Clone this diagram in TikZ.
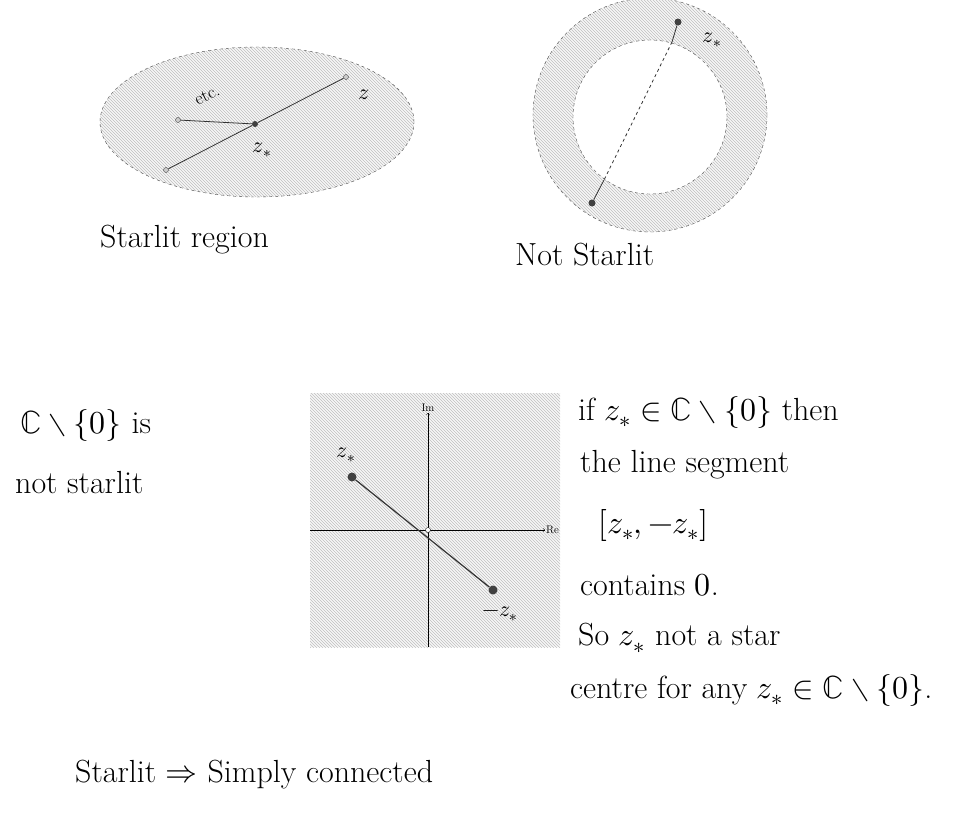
\documentclass[tikz,border=0pt]{standalone}
\usepackage{unicode-math}
\setmathfont{Latin Modern Math}
\usetikzlibrary{patterns}
\begin{document}
\begin{tikzpicture}[x=1pt,y=-1pt,
  dot/.style={circle,fill=black!75,minimum size=7pt,inner sep=0pt},
  smalldot/.style={circle,draw=black!75,fill=gray!40,minimum size=5pt,inner sep=0pt},
  hollow/.style={circle,draw,fill=white,minimum size=5pt,inner sep=0pt},
  hand/.style={font=\fontsize{32}{36}\selectfont,anchor=west,inner sep=0pt},
  hatch/.style={fill=gray!6,postaction={pattern=north west lines,pattern color=gray!50}},
  rim/.style={dashed,black!70}]
\useasboundingbox (0,0) rectangle (958,823);

% starlit region
\path[hatch] (257,122) ellipse [x radius=157pt, y radius=75pt];
\draw[rim] (257,122) ellipse [x radius=157pt, y radius=75pt];
\node[dot,minimum size=6pt] (zstar) at (255,124) {};
\node[smalldot] (zend) at (346,77) {};
\node[smalldot] (left) at (178,120) {};
\node[smalldot] (low) at (166,170) {};
\draw[thick,black!80] (zstar) -- (zend);
\draw[thick,black!80] (zstar) -- (left);
\draw[thick,black!80] (zstar) -- (low);
\node[font=\fontsize{22}{26}\selectfont] (zlab) at (364,95) {$z$};
\node[font=\fontsize{22}{26}\selectfont] (zstarlab) at (262,150) {$z_*$};
\node[font=\fontsize{18}{22}\selectfont,rotate=25,inner sep=0pt] (etc) at (207,95) {etc.};
\node[hand] (title1) at (100,240) {Starlit region};

% annulus
\path[hatch,even odd rule] (650,115) circle[radius=117pt] (650,117) circle[radius=77pt];
\draw[rim] (650,115) circle[radius=117pt];
\draw[rim] (650,117) circle[radius=77pt];
\node[dot] (top) at (678,22) {};
\coordinate (topin) at (672,42);
\node[dot] (bot) at (592,203) {};
\coordinate (botin) at (604,180);
\draw[thick,black!80] (top) -- (topin);
\draw[thick,black!80,dashed] (topin) -- (botin);
\draw[thick,black!80] (botin) -- (bot);
\node[font=\fontsize{22}{26}\selectfont] (toplab) at (712,40) {$z_*$};
\node[hand] (title2) at (515,255) {Not Starlit};

% punctured plane
\node[hand] (punct1) at (20,425) {$\mathbb{C}\setminus\{0\}$ is};
\node[hand] (punct2) at (15,483) {not starlit};
\path[hatch] (310,393) rectangle (560,647);
\coordinate (O) at (428,530);
\coordinate (west) at (310,530);
\coordinate (south) at (428,647);
\draw[->,thin] (west) -- (545,530) node[right,font=\fontsize{11}{13}\selectfont,inner sep=1pt] (re) {Re};
\draw[->,thin] (south) -- (428,413) node[above,font=\fontsize{11}{13}\selectfont,inner sep=1pt] (im) {Im};
\node[dot,minimum size=9pt] (zs) at (352,477) {};
\node[dot,minimum size=9pt] (mzs) at (493,590) {};
\draw[very thick,black!80] (zs) -- (mzs);
\node[hollow] (origin) at (O) {};
\node[font=\fontsize{22}{26}\selectfont] (zslab) at (346,455) {$z_*$};
\node[font=\fontsize{22}{26}\selectfont] (mzslab) at (500,614) {$-z_*$};

% explanation
\node[hand] (l1) at (578,412) {if $z_*\in\mathbb{C}\setminus\{0\}$ then};
\node[hand] (l2) at (580,465) {the line segment};
\node[hand] (l3) at (598,525) {$[z_*,-z_*]$};
\node[hand] (l4) at (580,585) {contains $0$.};
\node[hand] (l5) at (578,638) {So $z_*$ not a star};
\node[hand] (l6) at (570,690) {centre for any $z_*\in\mathbb{C}\setminus\{0\}$.};

\node[hand] (concl) at (75,775) {Starlit $\Rightarrow$ Simply connected};
\end{tikzpicture}
\end{document}
